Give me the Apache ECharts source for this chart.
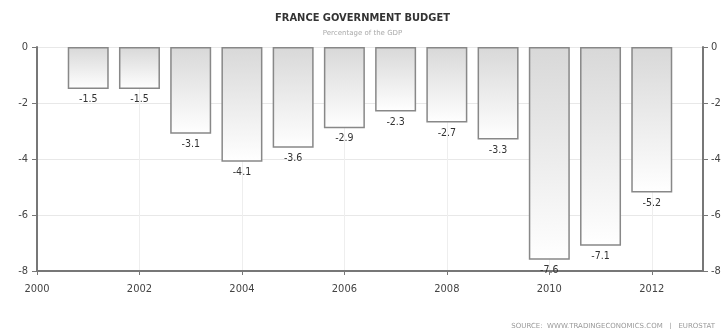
<!DOCTYPE html>
<html><head><meta charset="utf-8">
<script src="https://cdn.jsdelivr.net/npm/echarts@6/dist/echarts.min.js"></script>
<style>html,body{margin:0;padding:0;background:#fff}#c{width:725px;height:329px}</style>
</head><body><div id="c"></div>
<script>
const years = [2001,2002,2003,2004,2005,2006,2007,2008,2009,2010,2011,2012];
const values = [-1.5,-1.5,-3.1,-4.1,-3.6,-2.9,-2.3,-2.7,-3.3,-7.6,-7.1,-5.2];
const yTicks = [0,-2,-4,-6,-8];
const xTicks = [2000,2002,2004,2006,2008,2010,2012];

const chart = echarts.init(document.getElementById('c'));
const axisCol = '#777';
chart.setOption({
  animation:false,
  title:[{text:'FRANCE GOVERNMENT BUDGET',left:'center',top:8,textStyle:{fontFamily:'DejaVu Sans Condensed',fontSize:11,fontWeight:'bold',color:'#333'}},
         {text:'Percentage of the GDP',left:'center',top:25,textStyle:{fontFamily:'DejaVu Sans',fontSize:7,fontWeight:'normal',color:'#aaa'}},
         {text:'SOURCE:  WWW.TRADINGECONOMICS.COM   |   EUROSTAT',right:5,top:318,textStyle:{fontFamily:'DejaVu Sans',fontSize:7,fontWeight:'normal',color:'#999'}}],
  grid:{left:37,right:22,top:47,bottom:58},
  xAxis:{type:'value',min:2000,max:2013,interval:2,
    axisLine:{show:true,onZero:false,lineStyle:{color:axisCol,width:2}},
    axisTick:{show:true,length:4,lineStyle:{color:axisCol}},
    axisLabel:{showMaxLabel:false,margin:13,fontFamily:'DejaVu Sans Condensed',fontSize:11,color:'#444',formatter:v=>xTicks.includes(v)?String(v):''},
    splitLine:{show:true,lineStyle:{color:'#eee'}}},
  yAxis:[{type:'value',min:-8,max:0,interval:2,position:'left',
    axisLine:{show:true,lineStyle:{color:axisCol,width:2}},
    axisTick:{show:true,length:5,lineStyle:{color:axisCol}},
    axisLabel:{margin:9,fontFamily:'DejaVu Sans Condensed',fontSize:11,color:'#444',formatter:v=>yTicks.includes(v)?String(v):''},
    splitLine:{show:true,lineStyle:{color:'#e8e8e8'}}},
   {type:'value',min:-8,max:0,interval:2,position:'right',
    axisLine:{show:true,lineStyle:{color:axisCol,width:2}},
    axisTick:{show:true,length:5,lineStyle:{color:axisCol}},
    axisLabel:{margin:8,fontFamily:'DejaVu Sans Condensed',fontSize:11,color:'#444'},
    splitLine:{show:false}}],
  series:[{type:'bar',barWidth:41,
    data:years.map((y,i)=>[y,values[i]]),
    itemStyle:{borderColor:'#888',borderWidth:1.5,
      color:new echarts.graphic.LinearGradient(0,0,0,1,[{offset:0,color:'#d8d8d8'},{offset:1,color:'#ffffff'}])},
    label:{show:true,position:'bottom',distance:5,fontFamily:'DejaVu Sans Condensed',fontSize:10.5,color:'#333',formatter:p=>String(p.value[1])}}]
});
</script></body></html>
